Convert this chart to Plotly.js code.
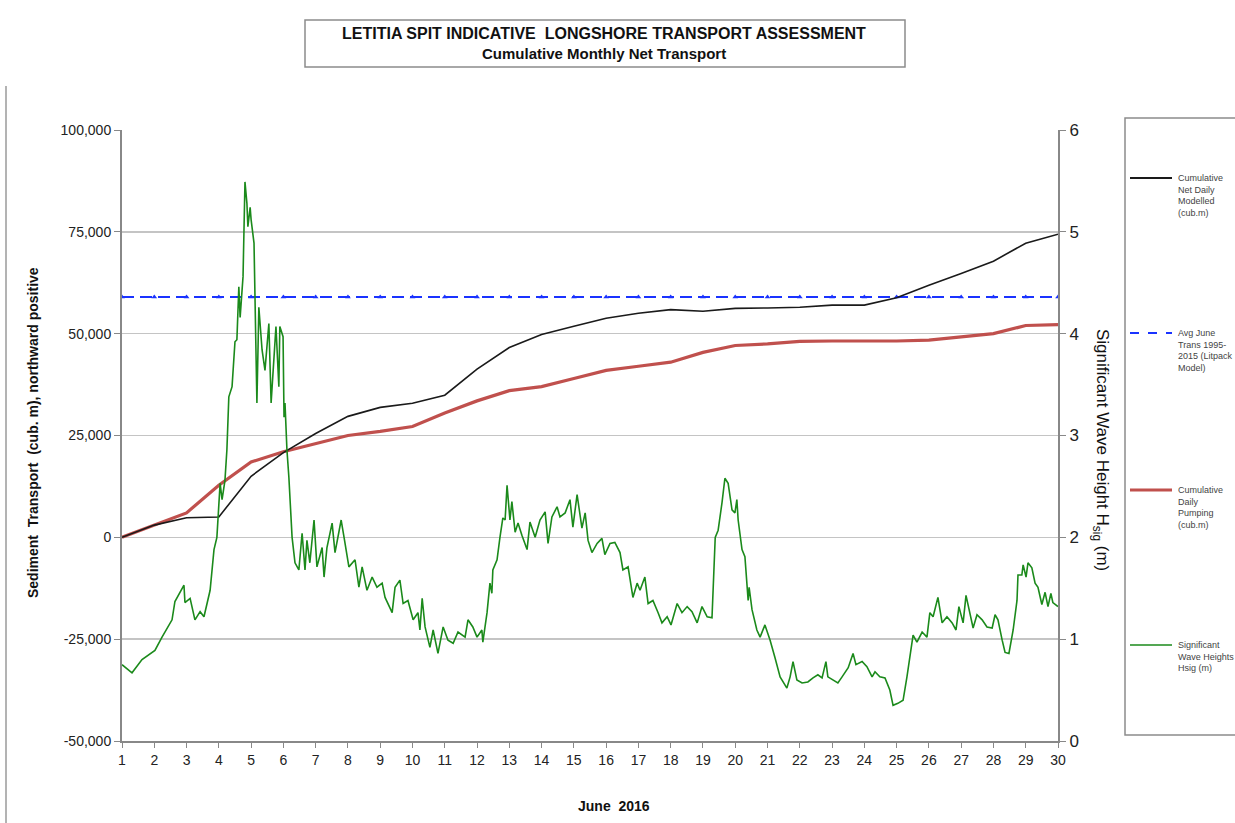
<!DOCTYPE html>
<html>
<head>
<meta charset="utf-8">
<script src="https://cdn.plot.ly/plotly-3.0.1.min.js"></script>
<style>html,body{margin:0;padding:0;background:#fff;}#chart{width:1235px;height:823px;}</style>
</head>
<body>
<div id="chart"></div>
<script>
// ---- data ----
const days = [1,2,3,4,5,6,7,8,9,10,11,12,13,14,15,16,17,18,19,20,21,22,23,24,25,26,27,28,29,30];
const netModelled = [0,3000,4800,5000,15000,20800,25500,29700,31900,32900,34900,41300,46600,49800,51800,53800,55000,55900,55500,56200,56300,56500,57000,57000,58800,61900,64800,67800,72200,74400];
const pumping = [0,3000,6000,12800,18500,21000,23000,25000,26000,27200,30500,33500,36000,37000,39000,41000,42000,43000,45400,47100,47500,48100,48200,48200,48200,48400,49200,50000,52000,52200];
const avgJuneTrans = 59000;
const waveDay = [1.00,1.31,1.62,2.02,2.24,2.55,2.64,2.92,2.95,3.11,3.26,3.42,3.54,3.73,3.85,3.94,4.04,4.10,4.19,4.25,4.31,4.41,4.50,4.56,4.62,4.66,4.75,4.81,4.87,4.90,4.97,5.00,5.09,5.12,5.18,5.24,5.34,5.43,5.55,5.62,5.71,5.77,5.86,5.89,5.99,6.02,6.05,6.11,6.17,6.27,6.36,6.48,6.58,6.67,6.73,6.82,6.95,7.04,7.20,7.26,7.35,7.51,7.60,7.79,7.88,8.03,8.22,8.34,8.44,8.59,8.75,8.90,9.06,9.15,9.37,9.46,9.61,9.71,9.86,10.02,10.17,10.23,10.30,10.39,10.54,10.64,10.79,10.95,11.10,11.26,11.41,11.63,11.72,11.87,12.00,12.15,12.18,12.31,12.40,12.46,12.49,12.62,12.71,12.80,12.87,12.93,13.02,13.08,13.18,13.27,13.39,13.55,13.64,13.80,13.95,14.11,14.20,14.32,14.48,14.57,14.73,14.88,14.97,15.10,15.25,15.35,15.44,15.56,15.72,15.87,15.96,16.12,16.27,16.43,16.52,16.68,16.83,16.96,17.05,17.20,17.30,17.45,17.61,17.73,17.89,18.01,18.20,18.35,18.51,18.66,18.82,18.97,19.13,19.28,19.38,19.47,19.59,19.68,19.78,19.90,19.99,20.05,20.09,20.21,20.30,20.40,20.43,20.52,20.67,20.77,20.92,21.08,21.23,21.39,21.60,21.70,21.79,21.91,22.07,22.25,22.41,22.56,22.69,22.81,22.87,23.03,23.18,23.31,23.50,23.65,23.74,23.93,24.08,24.24,24.33,24.48,24.64,24.79,24.89,25.04,25.20,25.32,25.41,25.51,25.63,25.79,25.94,26.03,26.13,26.28,26.41,26.56,26.72,26.84,26.93,27.06,27.15,27.24,27.37,27.49,27.65,27.80,27.96,28.05,28.14,28.27,28.36,28.48,28.61,28.73,28.76,28.88,28.92,29.01,29.07,29.19,29.29,29.38,29.50,29.60,29.69,29.78,29.84,30.00];
const waveHsig = [0.75,0.67,0.80,0.89,1.02,1.19,1.37,1.53,1.36,1.40,1.19,1.27,1.22,1.48,1.88,2.00,2.53,2.37,2.56,2.86,3.38,3.48,3.92,3.94,4.46,4.16,4.56,5.49,5.28,5.05,5.24,5.12,4.89,4.43,3.32,4.26,3.84,3.64,4.10,3.32,3.77,4.07,3.48,4.07,3.97,3.18,3.32,2.86,2.59,2.00,1.75,1.68,2.04,1.68,1.97,1.75,2.17,1.71,1.90,1.61,1.90,2.14,1.85,2.17,2.00,1.71,1.78,1.51,1.71,1.48,1.61,1.51,1.55,1.41,1.26,1.51,1.58,1.35,1.38,1.19,1.26,1.09,1.40,1.12,0.92,1.09,0.86,1.12,0.99,0.96,1.07,1.02,1.19,1.12,1.02,1.09,0.97,1.26,1.55,1.45,1.68,1.78,2.00,2.19,2.17,2.51,2.17,2.35,2.05,2.14,2.02,1.88,2.15,2.00,2.17,2.25,1.94,2.20,2.30,2.20,2.24,2.37,2.10,2.42,2.09,2.24,1.97,1.85,1.94,1.99,1.83,1.94,1.95,1.85,1.68,1.71,1.41,1.55,1.48,1.61,1.35,1.38,1.26,1.16,1.22,1.14,1.35,1.26,1.32,1.27,1.16,1.32,1.22,1.21,2.00,2.07,2.34,2.58,2.53,2.27,2.24,2.37,2.17,1.88,1.81,1.38,1.51,1.29,1.09,1.02,1.14,0.99,0.82,0.63,0.52,0.63,0.78,0.60,0.57,0.58,0.62,0.65,0.62,0.78,0.63,0.60,0.57,0.63,0.72,0.86,0.75,0.78,0.73,0.63,0.68,0.63,0.62,0.50,0.35,0.37,0.40,0.63,0.82,1.04,0.97,1.07,1.02,1.26,1.22,1.41,1.16,1.22,1.16,1.09,1.32,1.16,1.43,1.29,1.11,1.24,1.19,1.12,1.11,1.24,1.19,0.99,0.87,0.86,1.09,1.38,1.63,1.63,1.73,1.61,1.75,1.70,1.55,1.51,1.34,1.46,1.32,1.45,1.36,1.32];
const yTickVals = [-50000,-25000,0,25000,50000,75000,100000];
const yTickText = ["-50,000","-25,000","0","25,000","50,000","75,000","100,000"];
const y2TickVals = [0,1,2,3,4,5,6];
const seriesNames = ["Cumulative<br>Net Daily<br>Modelled<br>(cub.m)","Avg June<br>Trans 1995-<br>2015 (Litpack<br>Model)","Cumulative<br>Daily<br>Pumping<br>(cub.m)","Significant<br>Wave Heights<br>Hsig (m)"];
const titleLine1 = "LETITIA SPIT INDICATIVE  LONGSHORE TRANSPORT ASSESSMENT";
const titleLine2 = "Cumulative Monthly Net Transport";

// ---- layout helpers (pixel -> paper) ----
const L = 122, R = 1058, T = 130, B = 741;
const px = x => (x - L) / (R - L);
const py = y => (B - y) / (B - T);
const FONT = "Liberation Sans, Arial, sans-serif";

const colBlack = "#1a1a1a", colBlue = "#1a33ff", colRed = "#c0504d", colGreen = "#1b8a1b";

const traces = [
  {x: waveDay, y: waveHsig, yaxis: "y2", type: "scatter", mode: "lines", name: "Significant Wave Heights Hsig (m)", line: {color: colGreen, width: 1.6}, showlegend: false},
  {x: days, y: days.map(() => avgJuneTrans), type: "scatter", mode: "lines+markers", name: "Avg June Trans", line: {color: colBlue, width: 2, dash: "12px,6px"}, marker: {symbol: "triangle-up", size: 5, color: colBlue}, showlegend: false},
  {x: days, y: pumping, type: "scatter", mode: "lines", name: "Cumulative Daily Pumping", line: {color: colRed, width: 3.2}, showlegend: false},
  {x: days, y: netModelled, type: "scatter", mode: "lines", name: "Cumulative Net Daily Modelled", line: {color: colBlack, width: 1.6}, showlegend: false}
];

const legendRows = [
  {y: 178, color: colBlack, width: 2, dash: "solid"},
  {y: 333, color: colBlue, width: 2, dash: "dash"},
  {y: 490, color: colRed, width: 3, dash: "solid"},
  {y: 645, color: colGreen, width: 1.6, dash: "solid"}
];

const shapes = [
  {type: "rect", xref: "paper", yref: "paper", x0: px(305), x1: px(905), y0: py(20), y1: py(67), line: {color: "#8c8c8c", width: 1.5}},
  {type: "rect", xref: "paper", yref: "paper", x0: px(1125), x1: px(1245), y0: py(118), y1: py(735), line: {color: "#8c8c8c", width: 1.5}},
  {type: "line", xref: "paper", yref: "paper", x0: px(6), x1: px(6), y0: py(86), y1: py(830), line: {color: "#9a9a9a", width: 1.5}}
];
const ann = (text, x, y, size, extra) => Object.assign({text: text, xref: "paper", yref: "paper", x: px(x), y: py(y), xanchor: "center", yanchor: "middle", showarrow: false, font: {family: FONT, size: size, color: "#111"}}, extra || {});
const annotations = [
  ann("<b>" + titleLine1 + "</b>", 604, 33, 16),
  ann("<b>" + titleLine2 + "</b>", 604, 54, 15),
  ann("<b>Sediment  Transport  (cub. m), northward positive</b>", 33, 433, 14, {textangle: -90}),
  ann("Significant Wave Height H<sub>sig</sub> (m)", 1101, 450, 17, {textangle: 90}),
  ann("<b>June  2016</b>", 614, 806, 14)
];
legendRows.forEach((r, i) => {
  shapes.push({type: "line", xref: "paper", yref: "paper", x0: px(1130), x1: px(1172), y0: py(r.y), y1: py(r.y), line: {color: r.color, width: r.width, dash: r.dash}});
  annotations.push({text: seriesNames[i], xref: "paper", yref: "paper", x: px(1176), y: py(r.y - 7), xanchor: "left", yanchor: "top", align: "left", showarrow: false, font: {family: FONT, size: 9, color: "#444"}});
});

const layout = {
  width: 1235, height: 823, autosize: false,
  margin: {l: L, r: 1235 - R, t: T, b: 823 - B, pad: 0},
  paper_bgcolor: "#fff", plot_bgcolor: "#fff",
  font: {family: FONT, size: 13, color: "#222"},
  showlegend: false,
  xaxis: {range: [1, 30], tickvals: days, ticks: "outside", ticklen: 5, tickcolor: "#888", showline: true, linecolor: "#888", linewidth: 2, showgrid: false, zeroline: false, tickfont: {size: 14, color: "#222"}, fixedrange: true},
  yaxis: {range: [-50000, 100000], tickvals: yTickVals, ticktext: yTickText, ticks: "outside", ticklen: 6, tickcolor: "#888", showline: true, linecolor: "#888", linewidth: 2, showgrid: true, gridcolor: "#c4c4c4", gridwidth: 1.5, zeroline: false, tickfont: {size: 14, color: "#222"}},
  yaxis2: {range: [0, 6], tickvals: y2TickVals, overlaying: "y", side: "right", ticks: "outside", ticklen: 6, tickcolor: "#888", showline: true, linecolor: "#888", linewidth: 2, showgrid: false, zeroline: false, tickfont: {size: 17, color: "#222"}},
  shapes: shapes,
  annotations: annotations
};

Plotly.newPlot("chart", traces, layout, {displayModeBar: false, staticPlot: true});
</script>
</body>
</html>
